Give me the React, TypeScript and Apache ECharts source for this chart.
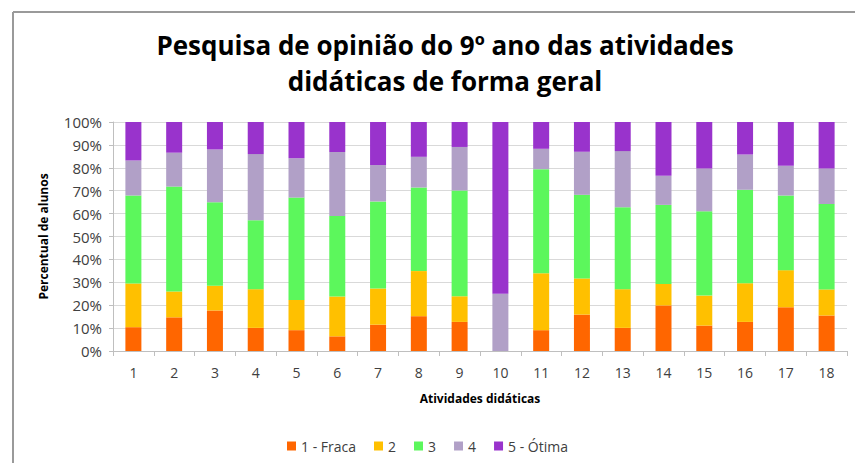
import React, { useEffect, useRef } from "react";
import * as echarts from "echarts";

const categories = ["1","2","3","4","5","6","7","8","9","10","11","12","13","14","15","16","17","18"];
const seriesNames = ["1 - Fraca", "2", "3", "4", "5 - Ótima"];
const fraca = [10.4,14.7,17.7,10.1,9.1,6.4,11.5,15.2,12.7,0,9.1,15.9,10.1,19.9,11.1,12.7,19.1,15.5];
const dois = [19.1,11.3,10.8,16.9,13.2,17.4,15.8,19.7,11.2,0,24.8,15.8,16.9,9.4,13.1,16.9,16.2,11.4];
const tres = [38.4,45.8,36.5,30.1,44.7,35.2,38.0,36.5,46.2,0,45.5,36.5,35.8,34.5,36.8,40.8,32.6,37.3];
const quatro = [15.3,14.8,23.0,28.9,17.2,27.9,15.9,13.4,19.0,25,8.9,18.8,24.5,12.7,18.7,15.4,13.0,15.5];
const otima = [16.8,13.4,12.0,14.0,15.8,13.1,18.8,15.2,10.9,75,11.7,13.0,12.7,23.5,20.3,14.2,19.1,20.3];
const colors = ["#FF6600", "#FFC000", "#5CF75C", "#B1A0C7", "#9933CC"];

export default function App() {
  const ref = useRef<HTMLDivElement>(null);
  useEffect(() => {
    if (!ref.current) return;
    const chart = echarts.init(ref.current, null, { renderer: "svg" });
    const data = [fraca, dois, tres, quatro, otima];
    const font = "'Open Sans', sans-serif";
    chart.setOption({
      animation: false,
      textStyle: { fontFamily: font },
      title: {
        text: "Pesquisa de opinião do 9º ano das atividades\ndidáticas de forma geral",
        left: 440,
        textAlign: "center",
        top: 22,
        textStyle: { fontFamily: font, fontSize: 26, fontWeight: "bold", color: "#000", lineHeight: 36 },
      },
      graphic: [
        { type: "line", shape: { x1: 13, y1: 12, x2: 855, y2: 12 }, style: { stroke: "#9a9a9a", lineWidth: 2 } },
        { type: "line", shape: { x1: 13, y1: 12, x2: 13, y2: 463 }, style: { stroke: "#9a9a9a", lineWidth: 2 } },
      ],
      legend: {
        data: seriesNames,
        top: 434,
        left: "center",
        itemWidth: 9,
        itemHeight: 9,
        itemGap: 18,
        icon: "rect",
        textStyle: { fontFamily: font, fontSize: 14, color: "#404040" },
      },
      grid: { left: 113, right: 8, top: 122, bottom: 112, containLabel: false },
      xAxis: {
        type: "category",
        data: categories,
        name: "Atividades didáticas",
        nameLocation: "middle",
        nameGap: 41,
        nameTextStyle: { fontFamily: font, fontSize: 12, fontWeight: "bold", color: "#000" },
        axisLine: { lineStyle: { color: "#bfbfbf" } },
        axisTick: { show: true, length: 5, lineStyle: { color: "#bfbfbf" } },
        axisLabel: { fontFamily: font, fontSize: 14, color: "#404040", margin: 14 },
      },
      yAxis: {
        type: "value",
        min: 0,
        max: 100,
        interval: 10,
        name: "Percentual de alunos",
        nameLocation: "middle",
        nameGap: 64,
        nameTextStyle: { fontFamily: font, fontSize: 12, fontWeight: "bold", color: "#000" },
        axisLine: { show: true, lineStyle: { color: "#bfbfbf" } },
        axisTick: { show: true, length: 4, lineStyle: { color: "#bfbfbf" } },
        splitLine: { lineStyle: { color: "#d9d9d9" } },
        axisLabel: { fontFamily: font, fontSize: 15, color: "#404040", formatter: "{value}%", margin: 11 },
      },
      series: seriesNames.map((name, i) => ({
        name,
        type: "bar",
        stack: "total",
        barWidth: 16,
        data: data[i],
        itemStyle: { color: colors[i] },
      })),
    });
    return () => chart.dispose();
  }, []);
  return (
    <div style={{ position: "absolute", left: 0, top: 0, width: 855, height: 463, background: "#fff" }}>
      <div ref={ref} style={{ width: 855, height: 463 }} />
    </div>
  );
}
